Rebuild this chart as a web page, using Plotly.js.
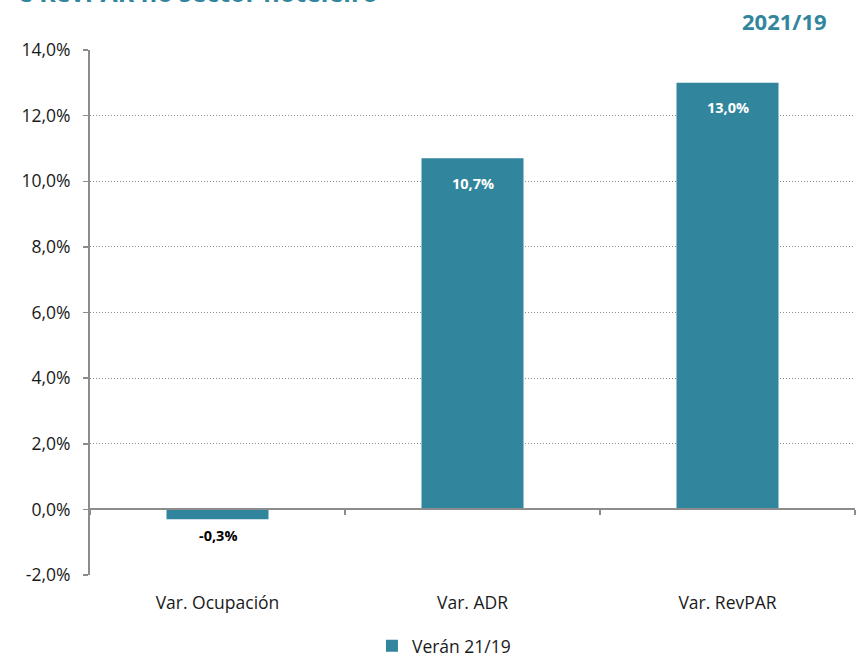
<!DOCTYPE html>
<html>
<head>
<meta charset="utf-8">
<script src="https://cdn.plot.ly/plotly-3.0.1.min.js"></script>
<style>html,body{margin:0;padding:0;background:#fff;}#chart{width:859px;height:658px;}</style>
</head>
<body>
<div id="chart"></div>
<script>
const categories = ["Var. Ocupación", "Var. ADR", "Var. RevPAR"];
const values = [-0.3, 10.7, 13.0];
const seriesName = "Verán 21/19";
const titleText = "e RevPAR no sector hoteleiro";
const periodText = "2021/19";
const yTicks = [-2, 0, 2, 4, 6, 8, 10, 12, 14];

const teal = "#31859C";
const font = "'Open Sans', 'Noto Sans', sans-serif";
const fmt = v => v.toFixed(1).replace(".", ",") + "%";

const bars = {
  type: "bar", x: categories, y: values, name: seriesName,
  marker: {color: teal}, hoverinfo: "skip", showlegend: true
};
const axisHelper = {
  type: "scatter", x: categories, y: values, xaxis: "x2", mode: "none",
  showlegend: false, hoverinfo: "skip"
};

const annotations = values.map((v, i) => ({
  x: categories[i], y: v, xref: "x", yref: "y", text: "<b>" + fmt(v) + "</b>",
  showarrow: false, yshift: v >= 0 ? -25 : -16,
  font: {family: font, size: 14.5, color: v >= 0 ? "#ffffff" : "#000000"}
}));
annotations.push({
  xref: "paper", yref: "paper", x: 0.379, y: 1.0745, xanchor: "right", yanchor: "bottom",
  text: "<b>" + titleText + "</b>", showarrow: false,
  font: {family: font, size: 25, color: teal}
});
annotations.push({
  xref: "paper", yref: "paper", x: 0.966, y: 1.0, xanchor: "right", yanchor: "bottom",
  yshift: 12,
  text: "<b>" + periodText + "</b>", showarrow: false,
  font: {family: font, size: 22, color: teal}
});

const layout = {
  width: 859, height: 658,
  margin: {l: 90, r: 4, t: 50, b: 83, autoexpand: false},
  paper_bgcolor: "#ffffff", plot_bgcolor: "#ffffff",
  bargap: 0.6,
  font: {family: font, size: 17.5, color: "#1a1a1a"},
  xaxis: {
    type: "category", categoryorder: "array", categoryarray: categories,
    range: [-0.5, 2.5], showline: false, showgrid: false, zeroline: false,
    ticks: "", ticklabelstandoff: 15, fixedrange: true, automargin: false,
    tickfont: {family: font, size: 17.5, color: "#1a1a1a"}
  },
  xaxis2: {
    type: "category", categoryorder: "array", categoryarray: categories,
    range: [-0.5, 2.5], overlaying: "x", anchor: "free", position: 0.125,
    showline: true, linecolor: "#8c8c8c", linewidth: 2,
    tickson: "boundaries", ticks: "outside", ticklen: 5, tickcolor: "#8c8c8c", tickwidth: 1.5,
    showticklabels: false, showgrid: false, zeroline: false
  },
  yaxis: {
    range: [-2, 14], tickvals: yTicks, ticktext: yTicks.map(fmt),
    showline: true, linecolor: "#8c8c8c", linewidth: 2,
    ticks: "outside", ticklen: 5, tickcolor: "#8c8c8c", tickwidth: 1.5,
    ticklabelstandoff: 9, automargin: false,
    tickfont: {family: font, size: 17.5, color: "#1a1a1a"},
    showgrid: true, gridcolor: "#8c8c8c", griddash: "1px,2px", gridwidth: 1,
    zeroline: false, fixedrange: true
  },
  legend: {
    orientation: "h", xref: "container", yref: "paper",
    x: 0.433, xanchor: "left", y: -0.135, yanchor: "middle",
    itemwidth: 30,
    font: {family: font, size: 17.5, color: "#1a1a1a"}
  },
  annotations: annotations
};

Plotly.newPlot("chart", [bars, axisHelper], layout, {staticPlot: true, displayModeBar: false});
</script>
</body>
</html>
